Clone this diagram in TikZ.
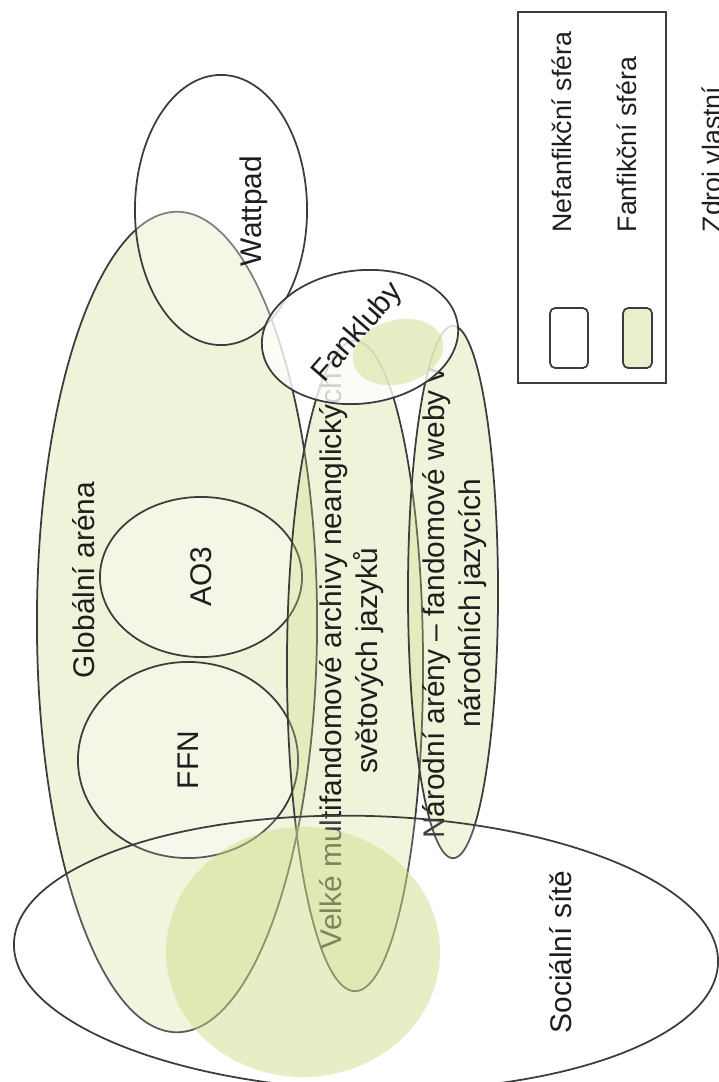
\documentclass[tikz,border=0pt]{standalone}
\usepackage{fontspec}
\setmainfont{Liberation Sans}
\usetikzlibrary{shapes.geometric, positioning}

\definecolor{fanfik}{RGB}{200,218,130}
\definecolor{okraj}{RGB}{60,60,60}
\definecolor{pismo}{RGB}{30,30,30}

\tikzset{
  sfera/.style={draw=okraj, line width=0.5pt, ellipse, inner sep=0pt, outer sep=0pt},
  fanfiksfera/.style={sfera, fill=fanfik, fill opacity=0.3, draw opacity=1},
  nefansfera/.style={sfera, fill=white, fill opacity=0.35, draw opacity=1},
  skvrna/.style={ellipse, inner sep=0pt, fill=fanfik, fill opacity=0.45},
  popisek/.style={text=pismo, font=\fontsize{8.5}{10.2}\selectfont, rotate=90, align=center, inner sep=0pt},
  legpopisek/.style={popisek, font=\fontsize{7.6}{9}\selectfont, anchor=base west},
  legbox/.style={draw=okraj, line width=0.5pt, rounded corners=1.5pt, inner sep=0pt}
}

\begin{document}
\begin{tikzpicture}[x=0.01cm, y=-0.01cm]
\useasboundingbox (0,0) rectangle (719,1082);

% globalni arena
\node[fanfiksfera, minimum width=2.8cm, minimum height=8.2cm] (glob) at (177,622) {};
\node[popisek] (glob-text) at (84,580) {Globální aréna};

\node[nefansfera, minimum width=2.2cm, minimum height=1.96cm] (ffn) at (188,760) {};
\node[popisek] (ffn-text) at (188,760) {FFN};
\node[nefansfera, minimum width=2.02cm, minimum height=1.6cm] (ao3) at (201,577) {};
\node[popisek] (ao3-text) at (201,577) {AO3};

\node[nefansfera, minimum width=1.72cm, minimum height=2.7cm] (wattpad) at (221,210) {};
\node[popisek] (wattpad-text) at (254,211) {Wattpad};

% archivy a narodni areny
\node[fanfiksfera, minimum width=1.36cm, minimum height=6.5cm] (velke) at (355,666) {};
\node[popisek] (velke-text) at (352,661) {Velké multifandomové archivy neanglických\\světových jazyků};
\node[fanfiksfera, minimum width=0.9cm, minimum height=5.32cm] (narodni) at (453,592) {};
\node[popisek] (narodni-text) at (455,603) {Národní arény – fandomové weby v\\národních jazycích};

% fankluby
\node[sfera, fill=white, fill opacity=0.8, draw opacity=1, rotate=7, minimum width=1.97cm, minimum height=1.33cm] (fankluby) at (360,337) {};
\node[skvrna, rotate=15, minimum width=0.92cm, minimum height=0.64cm] (fankluby-skvrna) at (398,352) {};
\node[popisek, rotate=-41] (fankluby-text) at (358,333) {Fankluby};

% socialni site
\node[sfera, fill=white, fill opacity=0.15, draw opacity=1, rotate=-1.6, minimum width=7.04cm, minimum height=2.74cm] (socialni) at (366,953) {};
\node[skvrna, minimum width=2.74cm, minimum height=2.5cm] (socialni-skvrna) at (303,952) {};
\node[popisek] (socialni-text) at (561,952) {Sociální sítě};

% legenda
\node[draw=okraj, line width=0.5pt, minimum width=1.48cm, minimum height=3.71cm, inner sep=0pt] (legenda) at (592,197.5) {};
\node[legbox, fill=white, minimum width=0.38cm, minimum height=0.6cm] (leg-nefan) at (569,338) {};
\node[legbox, fill=fanfik!40, minimum width=0.29cm, minimum height=0.6cm] (leg-fan) at (637.5,338) {};
\node[legpopisek] (leg-nefan-text) at (571,233) {Nefanfikční sféra};
\node[legpopisek] (leg-fan-text) at (636,233) {Fanfikční sféra};
\node[legpopisek] (zdroj) at (721,233) {Zdroj vlastní};
\end{tikzpicture}
\end{document}
